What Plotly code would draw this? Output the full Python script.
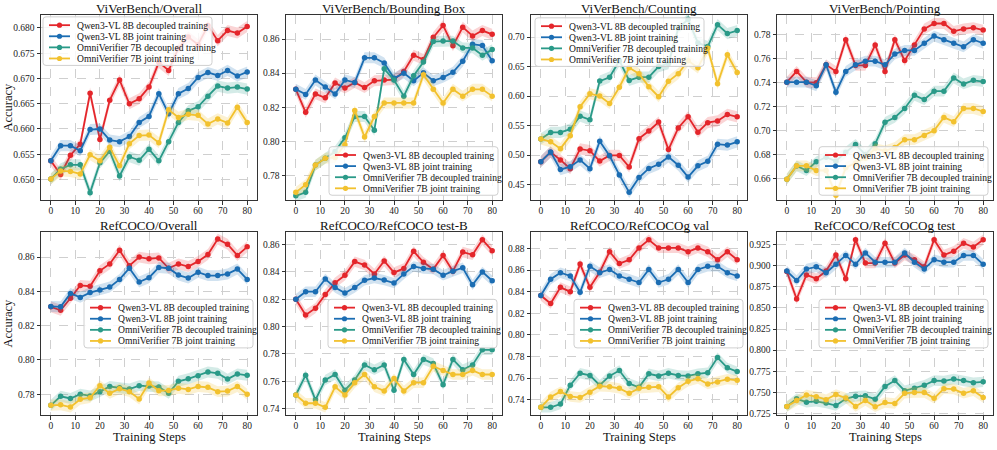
import plotly.graph_objects as go

# ---------------- data ----------------
STEPS = list(range(0, 81, 4))
SERIES_NAMES = ["Qwen3-VL 8B decoupled training", "Qwen3-VL 8B joint training",
                "OmniVerifier 7B decoupled training", "OmniVerifier 7B joint training"]
PANEL_TITLES = ["ViVerBench/Overall", "ViVerBench/Bounding Box", "ViVerBench/Counting", "ViVerBench/Pointing",
                "RefCOCO/Overall", "RefCOCO/RefCOCO test-B", "RefCOCO/RefCOCOg val", "RefCOCO/RefCOCOg test"]
X_TICKS = [0, 10, 20, 30, 40, 50, 60, 70, 80]

# ViVerBench/Overall
VO_QD = [0.6537,0.6510,0.6548,0.6570,0.6671,0.6579,0.6657,0.6697,0.6650,0.6660,0.6683,0.6732,0.6716,0.6760,0.6782,0.6767,0.6805,0.6775,0.6795,0.6790,0.6803]
VO_QJ = [0.6537,0.6567,0.6567,0.6557,0.6599,0.6600,0.6578,0.6575,0.6585,0.6613,0.6625,0.6670,0.6630,0.6670,0.6680,0.6702,0.6712,0.6706,0.6716,0.6705,0.6713]
VO_OD = [0.6501,0.6521,0.6529,0.6529,0.6474,0.6533,0.6556,0.6507,0.6545,0.6538,0.6560,0.6537,0.6575,0.6613,0.6636,0.6644,0.6665,0.6685,0.6681,0.6683,0.6679]
VO_OJ = [0.6501,0.6517,0.6516,0.6511,0.6549,0.6537,0.6564,0.6527,0.6571,0.6587,0.6588,0.6573,0.6638,0.6623,0.6629,0.6627,0.6610,0.6620,0.6612,0.6643,0.6613]
# ViVerBench/Bounding Box
VB_QD = [0.8305,0.8170,0.8278,0.8255,0.8342,0.8312,0.8345,0.8315,0.8355,0.8360,0.8362,0.8410,0.8505,0.8480,0.8610,0.8680,0.8560,0.8670,0.8618,0.8650,0.8628]
VB_QJ = [0.8305,0.8275,0.8360,0.8318,0.8278,0.8360,0.8345,0.8490,0.8490,0.8460,0.8370,0.8400,0.8355,0.8402,0.8355,0.8375,0.8405,0.8470,0.8570,0.8562,0.8472]
VB_OD = [0.7680,0.7700,0.7860,0.7900,0.7940,0.8020,0.8145,0.8145,0.8065,0.8425,0.8360,0.8265,0.8385,0.8465,0.8585,0.8588,0.8588,0.8548,0.8548,0.8505,0.8538]
VB_OJ = [0.7700,0.7745,0.7860,0.7900,0.7905,0.7980,0.8180,0.8025,0.8145,0.8225,0.8225,0.8225,0.8225,0.8390,0.8305,0.8225,0.8305,0.8265,0.8305,0.8305,0.8265]
# ViVerBench/Counting
VC_QD = [0.4890,0.5050,0.4920,0.4770,0.5105,0.5075,0.4900,0.4995,0.4995,0.4800,0.5280,0.5410,0.5560,0.5095,0.5460,0.5650,0.5390,0.5550,0.5580,0.5690,0.5650]
VC_QJ = [0.4890,0.5055,0.4755,0.4805,0.4920,0.4770,0.5235,0.4990,0.4665,0.4370,0.4620,0.4775,0.4845,0.4970,0.4830,0.4630,0.4820,0.4895,0.5185,0.5170,0.5225]
VC_OD = [0.5275,0.5385,0.5385,0.5440,0.5660,0.5600,0.6255,0.6320,0.6600,0.6265,0.6320,0.6320,0.6500,0.6550,0.7150,0.7300,0.6900,0.6840,0.7210,0.7060,0.7110]
VC_OJ = [0.5275,0.5225,0.5110,0.5330,0.5820,0.6040,0.6000,0.5875,0.6150,0.6480,0.6380,0.6160,0.5990,0.6250,0.6380,0.6600,0.6480,0.6810,0.6210,0.6700,0.6400]
# ViVerBench/Pointing
VP_QD = [0.7405,0.7495,0.7405,0.7400,0.7550,0.7495,0.7760,0.7545,0.7545,0.7715,0.7495,0.7760,0.7585,0.7715,0.7850,0.7895,0.7895,0.7830,0.7850,0.7860,0.7840]
VP_QJ = [0.7405,0.7405,0.7405,0.7375,0.7550,0.7320,0.7495,0.7550,0.7580,0.7580,0.7550,0.7640,0.7670,0.7670,0.7730,0.7790,0.7760,0.7730,0.7700,0.7760,0.7730]
VP_OD = [0.6595,0.6705,0.6667,0.6740,0.6778,0.6745,0.6820,0.6885,0.6800,0.6890,0.7070,0.7110,0.7185,0.7295,0.7260,0.7330,0.7330,0.7440,0.7390,0.7420,0.7410]
VP_OJ = [0.6595,0.6706,0.6706,0.6667,0.6667,0.6460,0.6690,0.6730,0.6770,0.6850,0.6830,0.6860,0.6925,0.6925,0.6960,0.7000,0.7110,0.7075,0.7185,0.7185,0.7160]
# RefCOCO/Overall
RO_QD = [0.8310,0.8290,0.8360,0.8435,0.8430,0.8520,0.8560,0.8640,0.8550,0.8600,0.8590,0.8595,0.8535,0.8560,0.8545,0.8575,0.8615,0.8705,0.8675,0.8610,0.8660]
RO_QJ = [0.8312,0.8310,0.8388,0.8365,0.8393,0.8408,0.8425,0.8470,0.8535,0.8455,0.8480,0.8540,0.8535,0.8495,0.8478,0.8512,0.8492,0.8492,0.8502,0.8530,0.8470]
RO_OD = [0.7735,0.7788,0.7775,0.7800,0.7790,0.7815,0.7845,0.7838,0.7830,0.7850,0.7848,0.7842,0.7805,0.7875,0.7890,0.7908,0.7930,0.7922,0.7888,0.7918,0.7910]
RO_OJ = [0.7735,0.7738,0.7725,0.7770,0.7780,0.7850,0.7805,0.7832,0.7815,0.7772,0.7865,0.7820,0.7822,0.7835,0.7828,0.7845,0.7840,0.7815,0.7818,0.7845,0.7800]
# RefCOCO/RefCOCO test-B
RB_QD = [0.8200,0.8085,0.8135,0.8235,0.8320,0.8375,0.8475,0.8450,0.8385,0.8480,0.8395,0.8425,0.8550,0.8470,0.8420,0.8520,0.8405,0.8545,0.8525,0.8635,0.8555]
RB_QJ = [0.8200,0.8255,0.8255,0.8348,0.8285,0.8245,0.8285,0.8338,0.8355,0.8340,0.8318,0.8385,0.8440,0.8425,0.8420,0.8375,0.8405,0.8430,0.8305,0.8400,0.8335]
RB_OD = [0.7500,0.7645,0.7465,0.7610,0.7650,0.7535,0.7610,0.7720,0.7685,0.7720,0.7535,0.7760,0.7650,0.7760,0.7730,0.7575,0.7760,0.7685,0.7720,0.7830,0.7830]
RB_OJ = [0.7500,0.7440,0.7440,0.7410,0.7560,0.7500,0.7590,0.7650,0.7560,0.7530,0.7620,0.7530,0.7590,0.7590,0.7710,0.7680,0.7650,0.7650,0.7680,0.7650,0.7650]
# RefCOCO/RefCOCOg val
RV_QD = [0.8365,0.8290,0.8440,0.8400,0.8655,0.8440,0.8580,0.8770,0.8660,0.8695,0.8805,0.8880,0.8805,0.8805,0.8805,0.8770,0.8805,0.8770,0.8695,0.8770,0.8695]
RV_QJ = [0.8365,0.8515,0.8575,0.8545,0.8395,0.8635,0.8575,0.8605,0.8545,0.8515,0.8485,0.8605,0.8485,0.8515,0.8605,0.8485,0.8605,0.8635,0.8635,0.8575,0.8545]
RV_OD = [0.7330,0.7330,0.7360,0.7535,0.7645,0.7625,0.7535,0.7620,0.7670,0.7550,0.7515,0.7640,0.7620,0.7645,0.7625,0.7620,0.7640,0.7650,0.7790,0.7695,0.7660]
RV_OJ = [0.7330,0.7425,0.7475,0.7430,0.7420,0.7470,0.7525,0.7520,0.7505,0.7460,0.7505,0.7515,0.7520,0.7425,0.7510,0.7570,0.7595,0.7545,0.7565,0.7590,0.7580]
# RefCOCO/RefCOCOg test
RT_QD = [0.8930,0.8605,0.8890,0.8845,0.8935,0.9125,0.8845,0.9305,0.9030,0.9030,0.9265,0.9030,0.9125,0.9070,0.8985,0.9305,0.9125,0.9170,0.9265,0.9220,0.9305]
RT_QJ = [0.8935,0.8825,0.8960,0.8985,0.8915,0.9015,0.9120,0.9015,0.9150,0.9040,0.9040,0.9040,0.9150,0.9040,0.8960,0.9070,0.9040,0.9040,0.9120,0.9120,0.9015]
RT_OD = [0.7335,0.7425,0.7385,0.7395,0.7375,0.7345,0.7425,0.7455,0.7460,0.7420,0.7570,0.7640,0.7520,0.7550,0.7585,0.7640,0.7635,0.7660,0.7640,0.7615,0.7625]
RT_OJ = [0.7335,0.7405,0.7470,0.7450,0.7415,0.7475,0.7435,0.7335,0.7405,0.7330,0.7380,0.7370,0.7490,0.7500,0.7500,0.7430,0.7545,0.7540,0.7490,0.7520,0.7440]

# shaded spread (half-width) per panel
BAND = [0.0011, 0.0032, 0.0095, 0.0045, 0.0032, 0.0038, 0.0048, 0.0062]
# y-axis ticks per panel
Y_TICKS = [
    [0.650, 0.655, 0.660, 0.665, 0.670, 0.675, 0.680],
    [0.78, 0.80, 0.82, 0.84, 0.86],
    [0.45, 0.50, 0.55, 0.60, 0.65, 0.70],
    [0.66, 0.68, 0.70, 0.72, 0.74, 0.76, 0.78],
    [0.78, 0.80, 0.82, 0.84, 0.86],
    [0.74, 0.76, 0.78, 0.80, 0.82, 0.84, 0.86],
    [0.74, 0.76, 0.78, 0.80, 0.82, 0.84, 0.86, 0.88],
    [0.725, 0.750, 0.775, 0.800, 0.825, 0.850, 0.875, 0.900, 0.925],
]
Y_RANGES = [
    [0.6459, 0.6826], [0.7654, 0.8742], [0.4237, 0.7376], [0.6419, 0.7967],
    [0.7677, 0.8747], [0.7352, 0.8692], [0.7256, 0.8953], [0.7230, 0.9398],
]

PANEL_DATA = [
    [VO_QD, VO_QJ, VO_OD, VO_OJ], [VB_QD, VB_QJ, VB_OD, VB_OJ],
    [VC_QD, VC_QJ, VC_OD, VC_OJ], [VP_QD, VP_QJ, VP_OD, VP_OJ],
    [RO_QD, RO_QJ, RO_OD, RO_OJ], [RB_QD, RB_QJ, RB_OD, RB_OJ],
    [RV_QD, RV_QJ, RV_OD, RV_OJ], [RT_QD, RT_QJ, RT_OD, RT_OJ],
]

# ---------------- style / layout ----------------
W, H = 997, 450
COLORS = ["#e4262b", "#1b6db3", "#2a9a88", "#f2c12e"]
BAND_COLORS = ["rgba(228,38,43,0.2)", "rgba(27,109,179,0.2)", "rgba(42,154,136,0.2)", "rgba(242,193,46,0.22)"]
FONT = "Liberation Serif, Times New Roman, serif"

COL_PX = [(41, 257), (286, 502), (531, 747), (777, 993)]
ROW_PX = [(15, 202), (234, 419)]
# legend box anchor per panel: (x_px, top_px, anchored side)
LEG_ANCHOR = [(43, 17, "left"), (498, 148, "right"), (535, 18, "left"), (988, 148, "right"),
              (253, 302, "right"), (497, 302, "right"), (743, 302, "right"), (988, 302, "right")]
LEG_W, LEG_H = 169, 49
LEG_ROW0, LEG_ROW_STEP = 8.4, 11.2
LEG_FONT = 9.6


def px_x(v):
    return v / W


def px_y(v):
    return 1 - v / H


def rounded_rect(x0, y0, x1, y1, r=3):
    # path in paper coordinates (input in px)
    pts = [
        f"M {px_x(x0 + r)},{px_y(y0)}",
        f"L {px_x(x1 - r)},{px_y(y0)}",
        f"Q {px_x(x1)},{px_y(y0)} {px_x(x1)},{px_y(y0 + r)}",
        f"L {px_x(x1)},{px_y(y1 - r)}",
        f"Q {px_x(x1)},{px_y(y1)} {px_x(x1 - r)},{px_y(y1)}",
        f"L {px_x(x0 + r)},{px_y(y1)}",
        f"Q {px_x(x0)},{px_y(y1)} {px_x(x0)},{px_y(y1 - r)}",
        f"L {px_x(x0)},{px_y(y0 + r)}",
        f"Q {px_x(x0)},{px_y(y0)} {px_x(x0 + r)},{px_y(y0)}",
        "Z",
    ]
    return " ".join(pts)


fig = go.Figure()
layout = dict(
    width=W, height=H, margin=dict(l=0, r=0, t=0, b=0),
    paper_bgcolor="white", plot_bgcolor="white",
    font=dict(family=FONT, color="#222222"),
    showlegend=False,
    annotations=[], shapes=[],
)

for p in range(8):
    r, c = divmod(p, 4)
    k = p + 1
    xa = "x" if k == 1 else f"x{k}"
    ya = "y" if k == 1 else f"y{k}"
    for s in range(4):
        vals = PANEL_DATA[p][s]
        upper = [v + BAND[p] for v in vals]
        lower = [v - BAND[p] for v in vals]
        fig.add_trace(go.Scatter(
            x=STEPS + STEPS[::-1], y=upper + lower[::-1],
            fill="toself", fillcolor=BAND_COLORS[s], line=dict(width=0),
            mode="lines", hoverinfo="skip", showlegend=False,
            xaxis=xa, yaxis=ya))
        fig.add_trace(go.Scatter(
            x=STEPS, y=vals, mode="lines+markers", name=SERIES_NAMES[s],
            line=dict(color=COLORS[s], width=1.8),
            marker=dict(color=COLORS[s], size=5.5),
            xaxis=xa, yaxis=ya, showlegend=False))

    x0, x1 = COL_PX[c]
    y0, y1 = ROW_PX[r]
    axis_common = dict(
        showline=True, mirror=True, linecolor="#333333", linewidth=1,
        ticks="outside", ticklen=3.5, tickwidth=0.8, tickcolor="#333333",
        showgrid=True, gridcolor="#cfcfcf", gridwidth=0.7, griddash="dash",
        zeroline=False, tickfont=dict(family=FONT, size=9.5, color="#222222"),
    )
    layout["xaxis" if k == 1 else f"xaxis{k}"] = dict(
        axis_common, domain=[x0 / W, x1 / W], anchor=ya, range=[-4, 84],
        tickvals=X_TICKS, ticktext=[str(t) for t in X_TICKS], ticklabelstandoff=-2)
    yfmt = ".3f" if p in (0, 7) else ".2f"
    layout["yaxis" if k == 1 else f"yaxis{k}"] = dict(
        axis_common, domain=[1 - y1 / H, 1 - y0 / H], anchor=xa, range=Y_RANGES[p],
        tickvals=Y_TICKS[p], ticktext=[format(t, yfmt) for t in Y_TICKS[p]])

    # legend (drawn as a framed key in the panel)
    ax_px, by, side = LEG_ANCHOR[p]
    bx = ax_px if side == "left" else ax_px - LEG_W
    layout["shapes"].append(dict(
        type="path", xref="paper", yref="paper", layer="above",
        path=rounded_rect(bx, by, bx + LEG_W, by + LEG_H),
        fillcolor="rgba(255,255,255,0.82)", line=dict(color="#d0d0d0", width=1)))
    for s in range(4):
        ry = by + LEG_ROW0 + LEG_ROW_STEP * s
        layout["shapes"].append(dict(
            type="line", xref="paper", yref="paper", layer="above",
            x0=px_x(bx + 6), x1=px_x(bx + 27), y0=px_y(ry), y1=px_y(ry),
            line=dict(color=COLORS[s], width=1.8)))
        layout["shapes"].append(dict(
            type="circle", xref="paper", yref="paper", layer="above",
            x0=px_x(bx + 16.5 - 2.6), x1=px_x(bx + 16.5 + 2.6),
            y0=px_y(ry - 2.6), y1=px_y(ry + 2.6),
            fillcolor=COLORS[s], line=dict(color=COLORS[s], width=0)))
        layout["annotations"].append(dict(
            text=SERIES_NAMES[s], x=px_x(bx + 31.5), y=px_y(ry),
            xref="paper", yref="paper", xanchor="left", yanchor="middle",
            showarrow=False, font=dict(family=FONT, size=LEG_FONT, color="#111111")))

    # panel title
    layout["annotations"].append(dict(
        text=PANEL_TITLES[p], x=(x0 + x1) / 2 / W, y=px_y(y0 - 6.5),
        xref="paper", yref="paper", xanchor="center", yanchor="middle",
        showarrow=False, font=dict(family=FONT, size=13, color="#111111")))
    if c == 0:
        layout["annotations"].append(dict(
            text="Accuracy", x=px_x(8), y=px_y((y0 + y1) / 2),
            xref="paper", yref="paper", xanchor="center", yanchor="middle",
            textangle=-90, showarrow=False, font=dict(family=FONT, size=12.5, color="#111111")))
    if r == 1:
        layout["annotations"].append(dict(
            text="Training Steps", x=(x0 + x1) / 2 / W, y=px_y(441),
            xref="paper", yref="paper", xanchor="center", yanchor="middle",
            showarrow=False, font=dict(family=FONT, size=12.5, color="#111111")))

fig.update_layout(**layout)
fig.write_html("out.html")
